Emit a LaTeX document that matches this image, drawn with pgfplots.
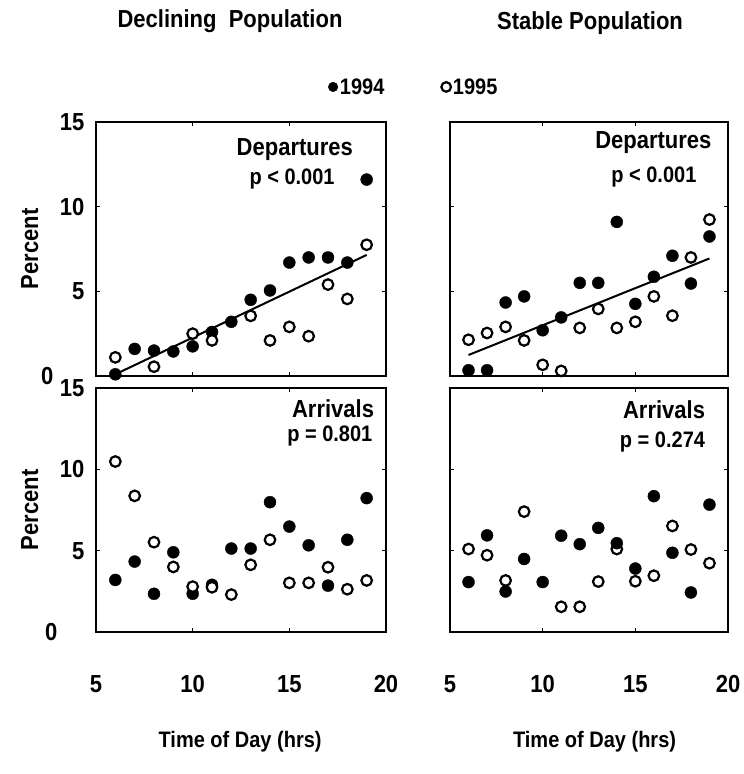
\documentclass[border=0pt]{standalone}
\usepackage{fontspec}
\setmainfont{Liberation Sans}
\usepackage{graphicx}
\usepackage{pgfplots}
\pgfplotsset{compat=1.18}

\newcommand{\tall}[1]{\scalebox{1}[1.12]{#1}}
\newcommand{\lblbf}{\fontsize{20}{24}\selectfont\bfseries}
\newcommand{\tickbf}{\fontsize{22}{26}\selectfont\bfseries}
\newcommand{\namebf}{\fontsize{22}{26}\selectfont\bfseries}

\pgfplotsset{
  panel/.style={
    scale only axis,
    xmin=5, xmax=20, ymin=0, ymax=15,
    axis line style={line width=2.2pt},
    xtick={5,10,15,20}, ytick={0,5,10,15},
    tick align=inside, major tick length=4pt,
    tick style={line width=1pt, black},
    clip=false,
    every tick label/.append style={font=\tickbf},
    xticklabel style={yshift=-40pt},
    yticklabel style={xshift=-8pt},
    label style={font=\lblbf},
  },
  y1994/.style={only marks, mark=*, mark size=6pt, black, mark options={fill=black}},
  y1995/.style={only marks, mark=*, mark size=5.3pt, black, mark options={line width=2.2pt, fill=white, draw=black}},
  fit/.style={black, line width=2pt, no markers},
}

\begin{document}
\begin{tikzpicture}
\useasboundingbox (0,0) rectangle (744pt,774pt);

\node[font=\namebf] at (230pt,753pt) {\tall{Declining\ \ Population}};
\node[font=\namebf] at (590pt,751pt) {\tall{Stable Population}};

% declining, departures
\begin{axis}[panel, at={(96pt,398pt)}, anchor=south west, width=290pt, height=254pt,
  xticklabels={}, yticklabels={\tall{0}\kern31pt,\tall{5},\tall{10},\tall{15}},
  ylabel={\tall{Percent}}, ylabel style={font=\namebf, at={(axis description cs:-0.228,0.5)}, anchor=center},
  legend columns=2,
  legend style={at={(axis description cs:0.79,1.138)}, anchor=west, draw=none, fill=none,
    font=\fontsize{20}{24}\selectfont\bfseries,
    /tikz/every even column/.append style={column sep=55pt}},
  legend image code/.code={\draw[#1] plot coordinates {(5pt,0pt)};},
  legend image post style={mark size=4.8pt},
]
\addplot[y1994] coordinates {
  (6,0.1) (7,1.6) (8,1.5) (9,1.45) (10,1.75) (11,2.6) (12,3.2)
  (13,4.5) (14,5.05) (15,6.7) (16,7.0) (17,7.0) (18,6.7) (19,11.6)};
\addlegendentry{\tall{1994}}
\addplot[y1995] coordinates {
  (6,1.1) (8,0.55) (10,2.5) (11,2.1) (13,3.55) (14,2.1)
  (15,2.9) (16,2.35) (17,5.4) (18,4.55) (19,7.75)};
\addlegendentry{\tall{1995}}
\addplot[fit, forget plot] coordinates {(6,0.1) (19,7.15)};
\node[font=\namebf, anchor=base east] at (rel axis cs:0.898,0.868) {\tall{Departures}};
\node[font=\lblbf, anchor=base east] at (rel axis cs:0.835,0.755) {\tall{p < 0.001}};
\end{axis}

% stable, departures
\begin{axis}[panel, at={(450pt,398pt)}, anchor=south west, width=278pt, height=254pt,
  xticklabels={}, yticklabels={}]
\addplot[y1995] coordinates {
  (6,2.14) (7,2.54) (8,2.9) (9,2.1) (10,0.66) (11,0.3) (12,2.84)
  (13,3.96) (14,2.84) (15,3.2) (16,4.7) (17,3.56) (18,7.0) (19,9.24)};
\addplot[y1994] coordinates {
  (6,0.34) (7,0.34) (8,4.34) (9,4.7) (10,2.7) (11,3.46) (12,5.5)
  (13,5.5) (14,9.1) (15,4.26) (16,5.86) (17,7.1) (18,5.46) (19,8.24)};
\addplot[fit] coordinates {(6,1.24) (19,6.94)};
\node[font=\namebf, anchor=base east] at (rel axis cs:0.953,0.896) {\tall{Departures}};
\node[font=\lblbf, anchor=base east] at (rel axis cs:0.899,0.763) {\tall{p < 0.001}};
\end{axis}

% declining, arrivals
\begin{axis}[panel, at={(96pt,142pt)}, anchor=south west, width=290pt, height=244pt,
  xticklabels={\tall{5},\tall{10},\tall{15},\tall{20}},
  yticklabels={\tall{0}\kern27pt,\tall{5},\tall{10},\tall{15}},
  ylabel={\tall{Percent}}, ylabel style={font=\namebf, at={(axis description cs:-0.228,0.5)}, anchor=center},
  xlabel={\tall{Time of Day (hrs)}}, xlabel style={at={(axis description cs:0.497,-0.451)}, anchor=center}]
\addplot[y1994] coordinates {
  (6,3.2) (7,4.33) (8,2.35) (9,4.9) (10,2.35) (11,2.9) (12,5.13)
  (13,5.13) (14,7.98) (15,6.48) (16,5.33) (17,2.85) (18,5.67) (19,8.23)};
\addplot[y1995] coordinates {
  (6,10.48) (7,8.37) (8,5.52) (9,4.0) (10,2.79) (11,2.75) (12,2.3)
  (13,4.13) (14,5.67) (15,3.02) (16,3.02) (17,3.98) (18,2.63) (19,3.17)};
\node[font=\namebf, anchor=base east] at (rel axis cs:0.971,0.878) {\tall{Arrivals}};
\node[font=\lblbf, anchor=base east] at (rel axis cs:0.965,0.782) {\tall{p = 0.801}};
\end{axis}

% stable, arrivals
\begin{axis}[panel, at={(450pt,142pt)}, anchor=south west, width=278pt, height=244pt,
  xticklabels={\tall{5},\tall{10},\tall{15},\tall{20}}, yticklabels={},
  xlabel={\tall{Time of Day (hrs)}}, xlabel style={at={(axis description cs:0.52,-0.451)}, anchor=center}]
\addplot[y1995] coordinates {
  (6,5.1) (7,4.72) (8,3.17) (9,7.4) (11,1.55) (12,1.55)
  (13,3.1) (14,5.1) (15,3.12) (16,3.46) (17,6.52) (18,5.07) (19,4.23)};
\addplot[y1994] coordinates {
  (6,3.07) (7,5.94) (8,2.49) (9,4.49) (10,3.07) (11,5.92) (12,5.4)
  (13,6.4) (14,5.46) (15,3.9) (16,8.35) (17,4.87) (18,2.43) (19,7.83)};
\node[font=\namebf, anchor=base east] at (rel axis cs:0.93,0.873) {\tall{Arrivals}};
\node[font=\lblbf, anchor=base east] at (rel axis cs:0.93,0.757) {\tall{p = 0.274}};
\end{axis}
\end{tikzpicture}
\end{document}
